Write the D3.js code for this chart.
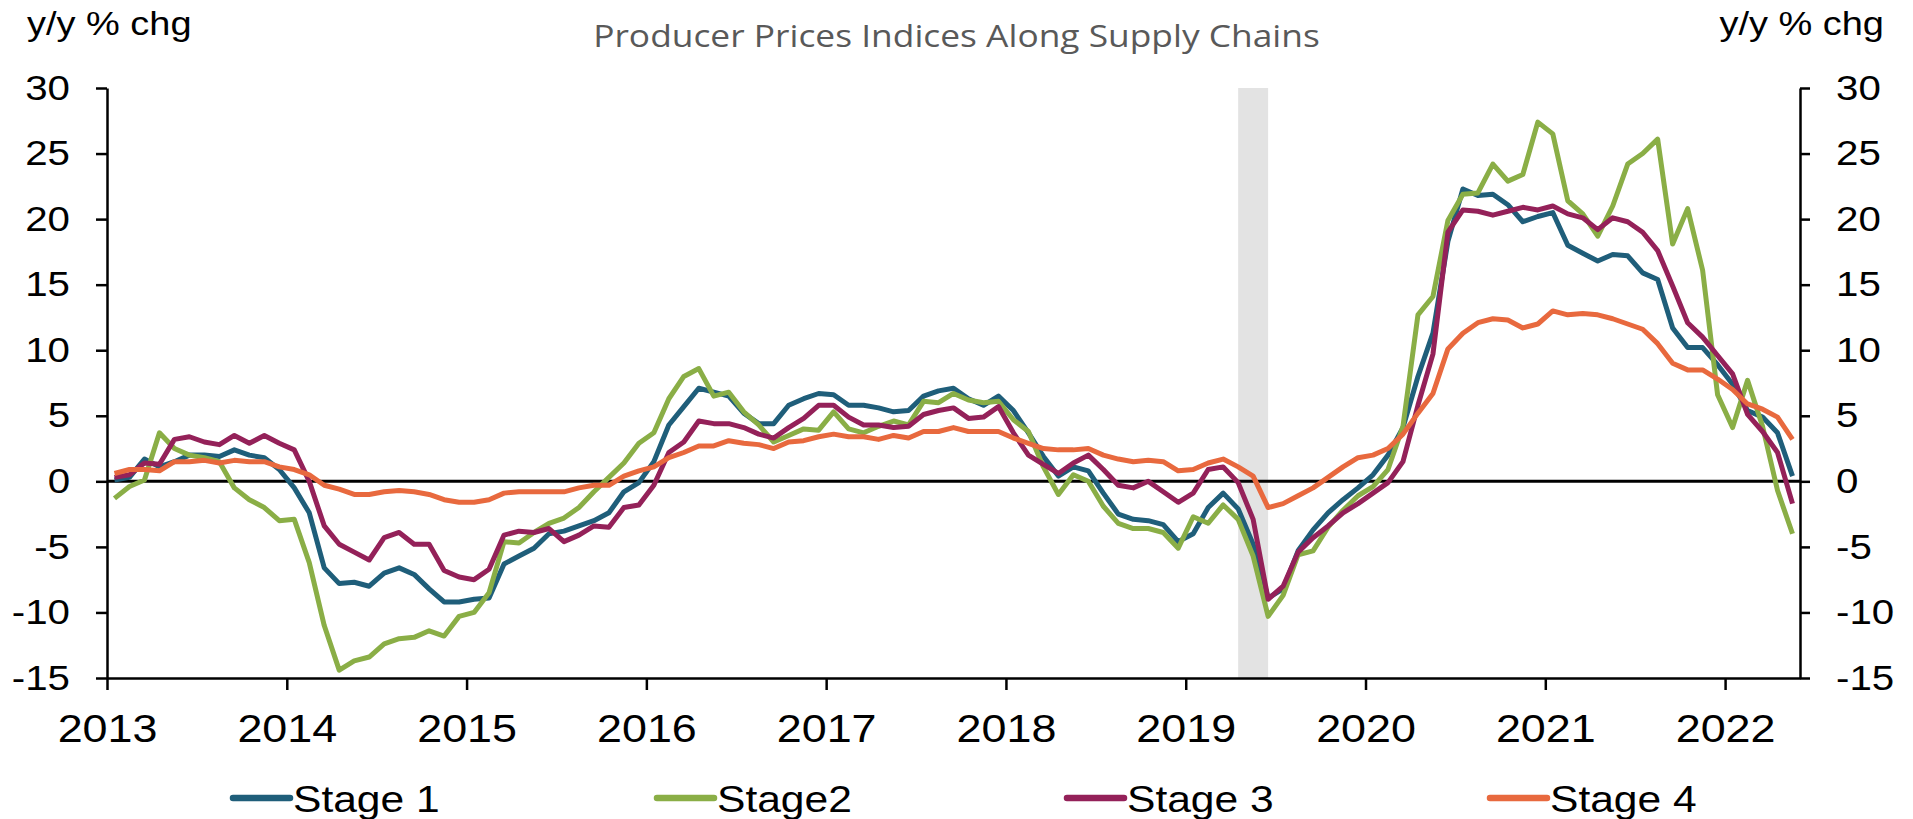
<!DOCTYPE html>
<html>
<head>
<meta charset="utf-8">
<script src="https://cdnjs.cloudflare.com/ajax/libs/d3/7.8.5/d3.min.js"></script>
<style>
  body { margin: 0; background: #fff; }
  svg { display: block; }
</style>
</head>
<body>
<svg id="chart"></svg>
<script>
// year labels on the x axis, one every 12 months
var years = [2013, 2014, 2015, 2016, 2017, 2018, 2019, 2020, 2021, 2022];
var seriesNames = ["Stage 1", "Stage2", "Stage 3", "Stage 4"];
var seriesColors = ["#1f5e7a", "#8aae46", "#942159", "#e8693e"];

// monthly y/y % change, first value = Jan 2013
var stage1 = [
  0.1, 0.3, 1.7, 1.1, 1.5, 2.0, 2.0, 1.9, 2.4, 2.0, 1.8, 0.9,
  -0.5, -2.4, -6.6, -7.8, -7.7, -8.0, -7.0, -6.6, -7.1, -8.2, -9.2, -9.2,
  -9.0, -8.9, -6.3, -5.7, -5.1, -4.0, -3.8, -3.4, -3.0, -2.4, -0.8, -0.1,
  1.5, 4.3, 5.7, 7.1, 6.8, 6.5, 5.2, 4.4, 4.4, 5.8, 6.3, 6.7,
  6.6, 5.8, 5.8, 5.6, 5.3, 5.4, 6.5, 6.9, 7.1, 6.3, 5.8, 6.5,
  5.4, 3.7, 1.9, 0.4, 1.1, 0.8, -0.9, -2.5, -2.9, -3.0, -3.3, -4.6,
  -4.0, -2.0, -0.9, -2.1, -4.8, -8.9, -8.2, -5.3, -3.7, -2.4, -1.4, -0.5,
  0.5, 2.0, 4.1, 8.0, 11.3, 18.3, 22.3, 21.8, 21.9, 21.1, 19.8, 20.2,
  20.5, 18.0, 17.4, 16.8, 17.3, 17.2, 15.9, 15.4, 11.7, 10.2, 10.2, 8.9,
  7.4, 5.4, 4.9, 3.7, 0.4
];
var stage2 = [
  -1.3, -0.4, 0.1, 3.7, 2.5, 2.0, 1.8, 1.5, -0.5, -1.4, -2.0, -3.0,
  -2.9, -6.2, -11.0, -14.4, -13.7, -13.4, -12.4, -12.0, -11.9, -11.4, -11.8, -10.3,
  -10.0, -8.5, -4.6, -4.7, -3.9, -3.2, -2.8, -2.0, -0.8, 0.3, 1.4, 2.9,
  3.7, 6.3, 8.0, 8.6, 6.5, 6.8, 5.3, 4.3, 3.0, 3.5, 4.0, 3.9,
  5.3, 4.0, 3.7, 4.2, 4.6, 4.3, 6.1, 6.0, 6.7, 6.2, 6.0, 6.1,
  4.7, 3.8, 1.1, -1.0, 0.5, 0.0, -1.9, -3.2, -3.6, -3.6, -3.9, -5.1,
  -2.7, -3.2, -1.8, -2.9, -5.7, -10.3, -8.7, -5.6, -5.3, -3.5, -2.2, -1.1,
  -0.4, 0.9, 4.2, 12.7, 14.1, 19.9, 21.9, 22.0, 24.2, 22.9, 23.4, 27.4,
  26.5, 21.4, 20.4, 18.7, 21.0, 24.2, 25.0, 26.1, 18.1, 20.8, 16.1, 6.6,
  4.1, 7.7, 4.2, -0.7, -4.0
];
var stage3 = [
  0.3, 0.5, 1.4, 1.3, 3.2, 3.4, 3.0, 2.8, 3.5, 2.9, 3.5, 2.9,
  2.4, 0.0, -3.4, -4.8, -5.4, -6.0, -4.3, -3.9, -4.8, -4.8, -6.8, -7.3,
  -7.5, -6.7, -4.1, -3.8, -3.9, -3.6, -4.6, -4.1, -3.4, -3.5, -2.0, -1.8,
  -0.3, 2.2, 3.0, 4.6, 4.4, 4.4, 4.1, 3.6, 3.3, 4.1, 4.8, 5.8,
  5.8, 4.9, 4.3, 4.3, 4.1, 4.2, 5.1, 5.4, 5.6, 4.8, 4.9, 5.7,
  3.7, 2.0, 1.3, 0.6, 1.4, 2.0, 0.9, -0.3, -0.5, 0.0, -0.8, -1.6,
  -0.9, 0.9, 1.1, -0.1, -2.9, -9.0, -8.0, -5.4, -4.3, -3.4, -2.4, -1.7,
  -0.9, -0.1, 1.5, 5.8, 9.7, 19.0, 20.7, 20.6, 20.3, 20.6, 20.9, 20.7,
  21.0, 20.4, 20.1, 19.2, 20.1, 19.8, 19.0, 17.6, 14.9, 12.1, 11.0, 9.6,
  8.2, 5.1, 3.8, 2.2, -1.7
];
var stage4 = [
  0.6, 0.9, 0.9, 0.8, 1.5, 1.5, 1.6, 1.4, 1.6, 1.5, 1.5, 1.1,
  0.9, 0.5, -0.3, -0.6, -1.0, -1.0, -0.8, -0.7, -0.8, -1.0, -1.4, -1.6,
  -1.6, -1.4, -0.9, -0.8, -0.8, -0.8, -0.8, -0.5, -0.3, -0.3, 0.4, 0.8,
  1.1, 1.8, 2.2, 2.7, 2.7, 3.1, 2.9, 2.8, 2.5, 3.0, 3.1, 3.4,
  3.6, 3.4, 3.4, 3.2, 3.5, 3.3, 3.8, 3.8, 4.1, 3.8, 3.8, 3.8,
  3.3, 2.9, 2.5, 2.4, 2.4, 2.5, 2.0, 1.7, 1.5, 1.6, 1.5, 0.8,
  0.9, 1.4, 1.7, 1.1, 0.4, -2.0, -1.7, -1.1, -0.5, 0.3, 1.1, 1.8,
  2.0, 2.5, 3.6, 5.2, 6.7, 10.1, 11.3, 12.1, 12.4, 12.3, 11.7, 12.0,
  13.0, 12.7, 12.8, 12.7, 12.4, 12.0, 11.6, 10.5, 9.0, 8.5, 8.5, 7.8,
  7.0, 5.9, 5.5, 4.9, 3.2
];
// shaded band: first and last month index
var recession = [75, 77];
var yTicks = [-15, -10, -5, 0, 5, 10, 15, 20, 25, 30];

var series = [stage1, stage2, stage3, stage4];

var width = 1913, height = 819;
var plot = {left: 107, right: 1800, top: 88, bottom: 678};
var fontAxis = "'Liberation Sans', Arial, sans-serif";
var stretchX = 1.15; // the source picture is a bit wider than tall

var svg = d3.select("#chart")
    .attr("width", width)
    .attr("height", height);

svg.append("rect")
    .attr("width", width)
    .attr("height", height)
    .attr("fill", "#fff");

// widen glyphs horizontally like the original
function stretch(sel, f) {
    sel.each(function() {
        var w = this.getComputedTextLength();
        d3.select(this)
            .attr("textLength", w * f)
            .attr("lengthAdjust", "spacingAndGlyphs");
    });
}

// one slot per month, points sit in the middle of their slot
var x = d3.scaleLinear().domain([0, stage1.length]).range([plot.left, plot.right]);
var y = d3.scaleLinear().domain([-15, 30]).range([plot.bottom, plot.top]);

// shaded band
svg.append("rect")
    .attr("x", x(recession[0] + 0.5))
    .attr("y", y(30))
    .attr("width", x(recession[1] + 0.5) - x(recession[0] + 0.5))
    .attr("height", y(-15) - y(30))
    .attr("fill", "#e3e3e3");

function styleAxis(g, size) {
    g.attr("font-size", null).attr("font-family", null);
    g.selectAll("path, line").attr("stroke", "#000").attr("stroke-width", 2.5);
    g.selectAll("text")
        .attr("fill", "#000")
        .attr("font-size", size)
        .attr("font-family", fontAxis);
}

var tickText = function(d) { return String(d); };

// left axis
var gLeft = svg.append("g")
    .attr("transform", "translate(" + plot.left + ",0)")
    .call(d3.axisLeft(y).tickValues(yTicks).tickFormat(tickText)
        .tickSize(11).tickSizeOuter(0).tickPadding(26));
styleAxis(gLeft, 35);

// right axis
var gRight = svg.append("g")
    .attr("transform", "translate(" + plot.right + ",0)")
    .call(d3.axisRight(y).tickValues(yTicks).tickFormat(tickText)
        .tickSize(10).tickSizeOuter(0).tickPadding(26));
styleAxis(gRight, 35);

// bottom axis with a label every 12 months
var gBottom = svg.append("g")
    .attr("transform", "translate(0," + plot.bottom + ")")
    .call(d3.axisBottom(x)
        .tickValues(years.map(function(d, i) { return i * 12; }))
        .tickFormat(function(d) { return years[d / 12]; })
        .tickSize(12).tickSizeOuter(0));
styleAxis(gBottom, 39);
gBottom.selectAll("text").attr("y", 64).attr("dy", null);

stretch(svg.selectAll("g text"), stretchX);

// zero line
svg.append("line")
    .attr("x1", x(0)).attr("x2", x(stage1.length))
    .attr("y1", y(0)).attr("y2", y(0))
    .attr("stroke", "#000")
    .attr("stroke-width", 3);

// series lines
var line = d3.line()
    .x(function(d, i) { return x(i + 0.5); })
    .y(function(d) { return y(d); });

series.forEach(function(s, k) {
    svg.append("path")
        .datum(s)
        .attr("fill", "none")
        .attr("stroke", seriesColors[k])
        .attr("stroke-width", 5)
        .attr("stroke-linejoin", "round")
        .attr("d", line);
});

// title and unit labels
var title = svg.append("text")
    .attr("x", width / 2)
    .attr("y", 47)
    .attr("text-anchor", "middle")
    .attr("font-family", "'Open Sans', sans-serif")
    .attr("font-size", 31)
    .attr("fill", "#595959")
    .text("Producer Prices Indices Along Supply Chains");
stretch(title, 1.14);

var units = svg.selectAll(".unit")
    .data([{x: 27, anchor: "start"}, {x: 1884, anchor: "end"}])
    .enter().append("text")
    .attr("class", "unit")
    .attr("x", function(d) { return d.x; })
    .attr("y", 35)
    .attr("text-anchor", function(d) { return d.anchor; })
    .attr("font-family", fontAxis)
    .attr("font-size", 33)
    .text("y/y % chg");
stretch(units, stretchX);

// legend
var legendX = [233, 657, 1067, 1490];
var legend = svg.selectAll(".legend")
    .data(seriesNames)
    .enter().append("g")
    .attr("class", "legend")
    .attr("transform", function(d, i) { return "translate(" + legendX[i] + ",798)"; });

legend.append("line")
    .attr("x1", 0).attr("x2", 57)
    .attr("stroke", function(d, i) { return seriesColors[i]; })
    .attr("stroke-width", 6.5)
    .attr("stroke-linecap", "round");

var legendText = legend.append("text")
    .attr("x", 60).attr("y", 14)
    .attr("font-family", fontAxis).attr("font-size", 37)
    .text(function(d) { return d; });
stretch(legendText, stretchX);
</script>
</body>
</html>
